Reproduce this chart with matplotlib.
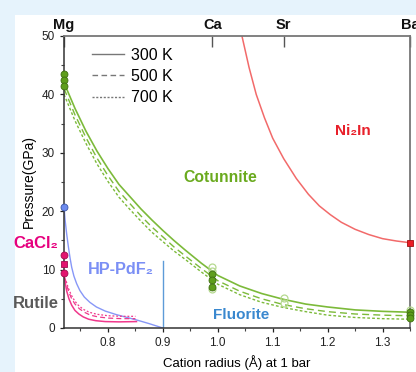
import numpy as np
import matplotlib
matplotlib.use('Agg')
import matplotlib.pyplot as plt
from matplotlib.lines import Line2D
from matplotlib.patches import Rectangle

plt.rcParams['font.family'] = ['Liberation Sans', 'DejaVu Sans']

# cotunnite boundary (green), 300/500/700 K
r_cot = [0.72, 0.74, 0.76, 0.78, 0.80, 0.82, 0.84, 0.86, 0.88, 0.90, 0.92, 0.94, 0.97,
         1.00, 1.04, 1.08, 1.12, 1.16, 1.20, 1.25, 1.30, 1.35]
p_cot_300 = [42.0, 37.6, 33.7, 30.3, 27.3, 24.6, 22.5, 20.4, 18.5, 16.7, 15.0, 13.4, 11.1,
             9.0, 7.2, 5.9, 4.9, 4.1, 3.6, 3.1, 2.85, 2.7]
p_cot_500 = [41.0, 36.5, 32.6, 29.1, 26.1, 23.4, 21.3, 19.2, 17.3, 15.6, 13.9, 12.4, 10.2,
             8.1, 6.3, 5.0, 4.0, 3.3, 2.8, 2.4, 2.2, 2.1]
p_cot_700 = [40.0, 35.5, 31.6, 28.1, 25.1, 22.4, 20.3, 18.3, 16.4, 14.8, 13.2, 11.8, 9.6,
             7.5, 5.7, 4.4, 3.5, 2.8, 2.2, 1.8, 1.6, 1.5]

# Ni2In boundary (red)
r_ni = [1.044, 1.057, 1.07, 1.085, 1.10, 1.12, 1.143, 1.165, 1.185, 1.205, 1.225, 1.25,
        1.275, 1.30, 1.325, 1.35]
p_ni = [50.0, 44.6, 40.0, 36.0, 32.5, 29.0, 25.6, 22.9, 20.9, 19.4, 18.1, 16.9,
        16.0, 15.3, 14.9, 14.6]

# HP-PdF2 boundary (blue)
r_pdf = [0.72, 0.722, 0.725, 0.728, 0.731, 0.734, 0.738, 0.743, 0.749, 0.757, 0.767,
         0.779, 0.795, 0.815, 0.835, 0.855, 0.875, 0.90]
p_pdf = [20.8, 18.5, 16.0, 13.9, 12.0, 10.4, 8.9, 7.6, 6.4, 5.3, 4.4,
         3.6, 2.9, 2.3, 1.8, 1.3, 0.75, 0.0]
r_flu = [0.90, 0.90]
p_flu = [0.0, 11.5]

# CaCl2 / rutile boundary (pink)
r_cacl_300 = [0.72, 0.722, 0.725, 0.729, 0.734, 0.74, 0.747, 0.755, 0.765, 0.778, 0.795, 0.82, 0.852]
p_cacl_300 = [9.4, 7.8, 6.3, 5.0, 3.9, 3.0, 2.4, 1.9, 1.5, 1.25, 1.1, 1.05, 1.1]
r_cacl_500 = [0.722, 0.725, 0.729, 0.734, 0.74, 0.748, 0.757, 0.768, 0.782, 0.80, 0.825, 0.85]
p_cacl_500 = [8.5, 7.3, 6.1, 5.0, 4.1, 3.3, 2.7, 2.2, 1.9, 1.7, 1.6, 1.6]
r_cacl_700 = [0.724, 0.728, 0.733, 0.739, 0.746, 0.755, 0.766, 0.78, 0.80, 0.825, 0.85]
p_cacl_700 = [8.0, 6.8, 5.7, 4.7, 3.9, 3.2, 2.7, 2.35, 2.1, 2.0, 2.0]

# experimental points
green_r = [0.72, 0.72, 0.72, 0.99, 0.99, 0.99, 1.35, 1.35, 1.35]
green_p = [43.5, 42.5, 41.4, 9.2, 8.2, 7.1, 2.8, 2.2, 1.7]
open_r = [0.99, 0.99, 0.99, 1.12, 1.12, 1.35]
open_p = [10.4, 9.8, 6.6, 5.1, 4.3, 3.1]
pink_r = [0.72, 0.72, 0.72]
pink_p = [12.5, 10.9, 9.4]
pink_m = ['o', 's', 'o']
blue_r = [0.72]
blue_p = [20.8]
red_r = [1.35]
red_p = [14.6]

cation_r = [0.72, 0.99, 1.12, 1.35]
cation_names = ['Mg', 'Ca', 'Sr', 'Ba']

green = '#7cba3a'
pink = '#f0388c'

fig = plt.figure(figsize=(4.16, 3.72), dpi=100, facecolor='#e6f3fc')
fig.patches.append(Rectangle((15 / 416, 0), 1, 1 - 15 / 372, transform=fig.transFigure,
                             facecolor='white', edgecolor='none', zorder=-5))
ax = fig.add_axes([64 / 416, 44 / 372, 346 / 416, 292 / 372])
ax.set_facecolor('white')

ax.plot(r_cot, p_cot_300, color=green, lw=1.2)
ax.plot(r_cot, p_cot_500, color=green, lw=1.0, dashes=(5, 3))
ax.plot(r_cot, p_cot_700, color=green, lw=1.0, dashes=(2, 1.5))
ax.plot(r_ni, p_ni, color='#f26a6a', lw=1.1)
ax.plot(r_pdf, p_pdf, color='#8797f7', lw=1.0)
ax.plot(r_flu, p_flu, color='#5d9bd8', lw=1.0)
ax.plot(r_cacl_300, p_cacl_300, color=pink, lw=1.1)
ax.plot(r_cacl_500, p_cacl_500, color=pink, lw=0.9, dashes=(4, 2.5))
ax.plot(r_cacl_700, p_cacl_700, color=pink, lw=0.9, dashes=(1.5, 1.5))

ax.plot(open_r, open_p, 'o', ms=5, mfc='none', mec='#b5d98f', mew=0.9, clip_on=False, zorder=4)
ax.plot(green_r, green_p, 'o', ms=5, mfc='#5f9e1c', mec='#3e6e10', mew=0.6, clip_on=False, zorder=5)
for r, p, m in zip(pink_r, pink_p, pink_m):
    ax.plot(r, p, m, ms=5, mfc='#e3146f', mec='#a00e50', mew=0.6, clip_on=False, zorder=5)
ax.plot(blue_r, blue_p, 'o', ms=5, mfc='#6d8bef', mec='#3a55a8', mew=0.6, clip_on=False, zorder=5)
ax.plot(red_r, red_p, 's', ms=5, mfc='#ea1c24', mec='#a01010', mew=0.6, clip_on=False, zorder=5)

ax.set_xlim(0.72, 1.35)
ax.set_ylim(0, 50)
ax.set_xticks([0.8, 0.9, 1.0, 1.1, 1.2, 1.3])
ax.set_xticks(np.arange(0.75, 1.35, 0.05), minor=True)
ax.set_yticks([0, 10, 20, 30, 40, 50])
ax.set_yticks([5, 15, 25, 35, 45], minor=True)
ax.tick_params(which='major', direction='out', length=3, width=0.9, labelsize=8.5, colors='#222')
ax.tick_params(which='minor', direction='out', length=2, width=0.8, colors='#444')
ax.tick_params(axis='x', which='both', top=False)
for s in ['left', 'bottom']:
    ax.spines[s].set_color('#333')
    ax.spines[s].set_linewidth(1.1)
for s in ['top', 'right']:
    ax.spines[s].set_color('#777')
    ax.spines[s].set_linewidth(1.3)

top = ax.secondary_xaxis('top')
top.set_xticks(cation_r, labels=cation_names)
top.tick_params(direction='in', length=8, width=1.0, colors='#555', pad=3)
for lab in top.get_xticklabels():
    lab.set_fontweight('bold')
    lab.set_fontsize(10.5)
    lab.set_color('#111')
top.spines['top'].set_visible(False)

ax.set_xlabel('Cation radius (Å) at 1 bar', fontsize=9.5, labelpad=4)
ax.set_ylabel('Pressure(GPa)', fontsize=10, labelpad=4)

handles = [Line2D([], [], color='#777', lw=1.0),
           Line2D([], [], color='#777', lw=1.0, dashes=(4, 2.5)),
           Line2D([], [], color='#777', lw=1.0, dashes=(1.5, 1.2))]
ax.legend(handles, ['300 K', '500 K', '700 K'], loc='upper left', bbox_to_anchor=(0.081, 0.96),
          frameon=False, fontsize=11.5, handlelength=2.0, handletextpad=0.45,
          labelspacing=0.4, borderpad=0, borderaxespad=0)

def fig_text(x, y, s, color, size=11):
    fig.text(x / 416, 1 - y / 372, s, color=color, fontsize=size, fontweight='bold',
             ha='center', va='center')

fig_text(220, 178, 'Cotunnite', '#6aaa1e', 11.3)
fig_text(353, 131, 'Ni₂In', '#e8202a')
fig_text(36, 243, 'CaCl₂', '#e6007e', 12)
fig_text(36, 304, 'Rutile', '#5a5a5a', 12)
fig_text(121, 269, 'HP-PdF₂', '#7b8ff5', 11.7)
fig_text(241, 315, 'Fluorite', '#3a88cf')

fig.savefig('out.png', dpi=100, facecolor=fig.get_facecolor())
